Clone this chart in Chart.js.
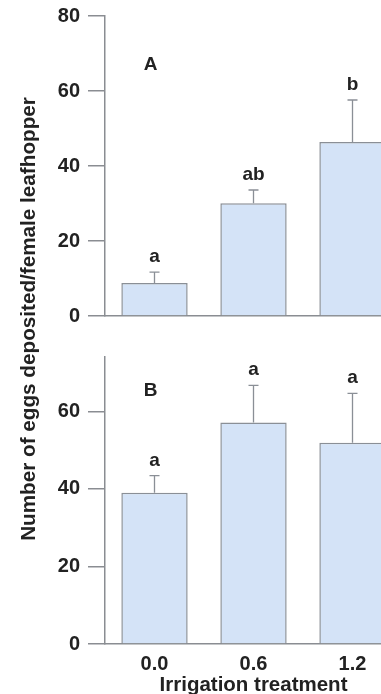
<!DOCTYPE html>
<html>
<head>
<meta charset="utf-8">
<script src="https://cdn.jsdelivr.net/npm/chart.js@4"></script>
<style>
  body { margin: 0; background: #fff; overflow: hidden; }
  #wrap { position: relative; width: 381px; height: 694px; overflow: hidden; }
  #boxA { position: absolute; left: 0; top: -4px; }
  #boxB { position: absolute; left: 0; top: 330px; }
  #ytitle {
    position: absolute; left: -222px; top: 307px; width: 500px; height: 24px;
    line-height: 24px; text-align: center; transform: rotate(-90deg);
    font: bold 20.7px "Liberation Sans", Arial, sans-serif; color: #222;
  }
</style>
</head>
<body>
<div id="wrap">
  <canvas id="boxA" width="405" height="340"></canvas>
  <canvas id="boxB" width="405" height="368"></canvas>
  <div id="ytitle">Number of eggs deposited/female leafhopper</div>
</div>
<script>
// irrigation treatments
const treatments = ["0.0", "0.6", "1.2"];

// panel A: means, standard errors, letters
const meansA = [8.8, 30.1, 46.4];
const seA = [2.9, 3.5, 11.2];
const lettersA = ["a", "ab", "b"];

// panel B
const meansB = [39.0, 57.1, 51.9];
const seB = [4.4, 9.6, 12.7];
const lettersB = ["a", "a", "a"];

const fontFamily = '"Liberation Sans", Arial, sans-serif';
const textColor = "#222";
const axisColor = "#8a8d92";
const barFill = "#d4e3f7";
const barEdge = "#8a8f96";

// draws error bars, significance letters and the panel letter
const errorBars = {
  id: "errorBars",
  afterDatasetsDraw(chart, args, opts) {
    const { ctx } = chart;
    const y = chart.scales.y;
    const x = chart.scales.x;
    const meta = chart.getDatasetMeta(0);
    ctx.save();
    ctx.strokeStyle = barEdge;
    ctx.lineWidth = 1.3;
    ctx.fillStyle = textColor;
    ctx.textAlign = "center";
    ctx.textBaseline = "alphabetic";
    ctx.font = "bold 19px " + fontFamily;
    meta.data.forEach((bar, i) => {
      const top = y.getPixelForValue(opts.means[i] + opts.se[i]);
      ctx.beginPath();
      ctx.moveTo(bar.x, bar.y);
      ctx.lineTo(bar.x, top);
      ctx.moveTo(bar.x - 5, top);
      ctx.lineTo(bar.x + 5, top);
      ctx.stroke();
      ctx.fillText(opts.letters[i], bar.x, top - 10);
    });
    ctx.textBaseline = "middle";
    ctx.fillText(opts.panel, x.getPixelForValue(0) - 4, y.getPixelForValue(opts.panelY));
    ctx.restore();
  }
};

function makeChart(id, means, se, letters, panel, cfg) {
  new Chart(id, {
    type: "bar",
    data: {
      labels: treatments,
      datasets: [{
        data: means,
        backgroundColor: barFill,
        borderColor: barEdge,
        borderWidth: 1.5,
        barPercentage: 0.67,
        categoryPercentage: 1,
      }],
    },
    options: {
      responsive: false,
      animation: false,
      devicePixelRatio: 1,
      layout: { padding: { top: cfg.top, left: 0, right: 3, bottom: 0 } },
      plugins: {
        legend: { display: false },
        tooltip: { enabled: false },
        errorBars: { means, se, letters, panel, panelY: cfg.panelY },
      },
      scales: {
        x: {
          ticks: {
            display: cfg.showX,
            color: textColor,
            padding: 8,
            font: { size: 20, weight: "bold", family: fontFamily },
          },
          title: {
            display: cfg.showX,
            text: "Irrigation treatment",
            color: textColor,
            padding: { top: 0, bottom: 0 },
            font: { size: 20.5, weight: "bold", family: fontFamily },
          },
          grid: { drawOnChartArea: false, drawTicks: false },
          border: { color: axisColor, width: 1.5 },
          afterFit: (s) => { s.height = cfg.xHeight; },
        },
        y: {
          min: 0,
          max: cfg.max,
          ticks: {
            stepSize: 20,
            includeBounds: false,
            padding: 8,
            color: textColor,
            font: { size: 20, weight: "bold", family: fontFamily },
          },
          grid: { drawOnChartArea: false, drawTicks: true, tickLength: 17, color: axisColor, lineWidth: 1.5 },
          border: { color: axisColor, width: 1.5 },
          afterFit: (s) => { s.width = 105; },
        },
      },
    },
    plugins: [errorBars],
  });
}

makeChart("boxA", meansA, seA, lettersA, "A", { top: 0, max: 80, showX: false, xHeight: 20, panelY: 67 });
makeChart("boxB", meansB, seB, lettersB, "B", { top: 27, max: 74, showX: true, xHeight: 54, panelY: 65.4 });
</script>
</body>
</html>
